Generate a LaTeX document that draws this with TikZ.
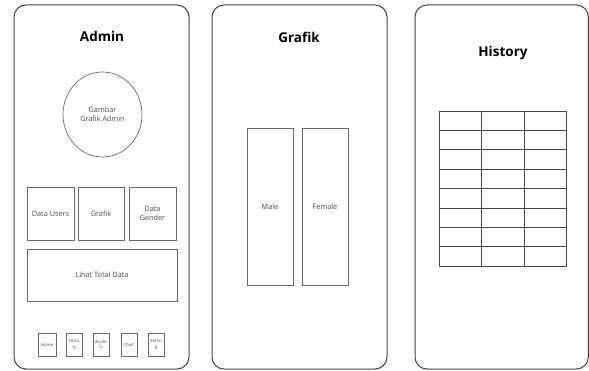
\documentclass[tikz,border=0pt]{standalone}
\usepackage{fontspec}
\setmainfont{Open Sans}
\usetikzlibrary{shapes.geometric}
\definecolor{frame}{HTML}{444444}
\definecolor{boxc}{HTML}{6A6A6A}
\definecolor{txt}{HTML}{4A4A4A}
\begin{document}
\begin{tikzpicture}[x=1pt,y=-1pt,
  panel/.style={draw=frame,line width=1pt,rounded corners=12pt},
  ttl/.style={font=\bfseries\fontsize{13.5}{15}\selectfont,text=black},
  bx/.style={draw=boxc,line width=0.7pt,inner sep=0pt,align=center,text=txt,font=\fontsize{7.3}{9.5}\selectfont},
  btn/.style={draw=boxc,line width=0.6pt,inner sep=0pt,align=center,text=txt,font=\fontsize{4.3}{5.5}\selectfont,minimum width=16pt,minimum height=23pt},
  grid/.style={draw=frame,line width=0.7pt}]
\useasboundingbox (0,0) rectangle (589,371);
% panels
\draw[panel] (14,5) rectangle (189,369);
\draw[panel] (212,5) rectangle (387,369);
\draw[panel] (415,5) rectangle (588.4,369);
% Admin
\node[ttl] (t1) at (102,36) {Admin};
\node[bx,ellipse,minimum width=79pt,minimum height=85pt] (circ) at (102.5,114.5) {Gambar\\Grafik Admin};
\node[bx,minimum width=47pt,minimum height=53pt] (du) at (50.5,213.5) {Data Users};
\node[bx,minimum width=46pt,minimum height=53pt] (gr) at (101,213.5) {Grafik};
\node[bx,minimum width=47pt,minimum height=53pt] (dg) at (152.5,213.5) {Data\\Gender};
\node[bx,minimum width=150pt,minimum height=52pt] (lt) at (102,275) {Lihat Total Data};
\node[btn,minimum width=18pt] (b1) at (47,344.5) {Home};
\node[btn] (b2) at (74,344.5) {Histo\\ry};
\node[btn] (b3) at (101,344.5) {Analis\\is};
\node[btn] (b4) at (129,344.5) {Chart};
\node[btn] (b5) at (156,344.5) {Settin\\g};
% Grafik
\node[ttl] (t2) at (299,37) {Grafik};
\node[bx,minimum width=46pt,minimum height=157pt] (male) at (270,206.5) {Male};
\node[bx,minimum width=46pt,minimum height=157pt] (fem) at (325,206.5) {Female};
% History
\node[ttl] (t3) at (503,53) {History};
\draw[grid] (439,111) rectangle (566,266);
\foreach \xx in {481,524} \draw[grid] (\xx,111) -- (\xx,266);
\foreach \yy in {130.4,149.8,169.1,188.5,207.9,227.3,246.6} \draw[grid] (439,\yy) -- (566,\yy);
\end{tikzpicture}
\end{document}
